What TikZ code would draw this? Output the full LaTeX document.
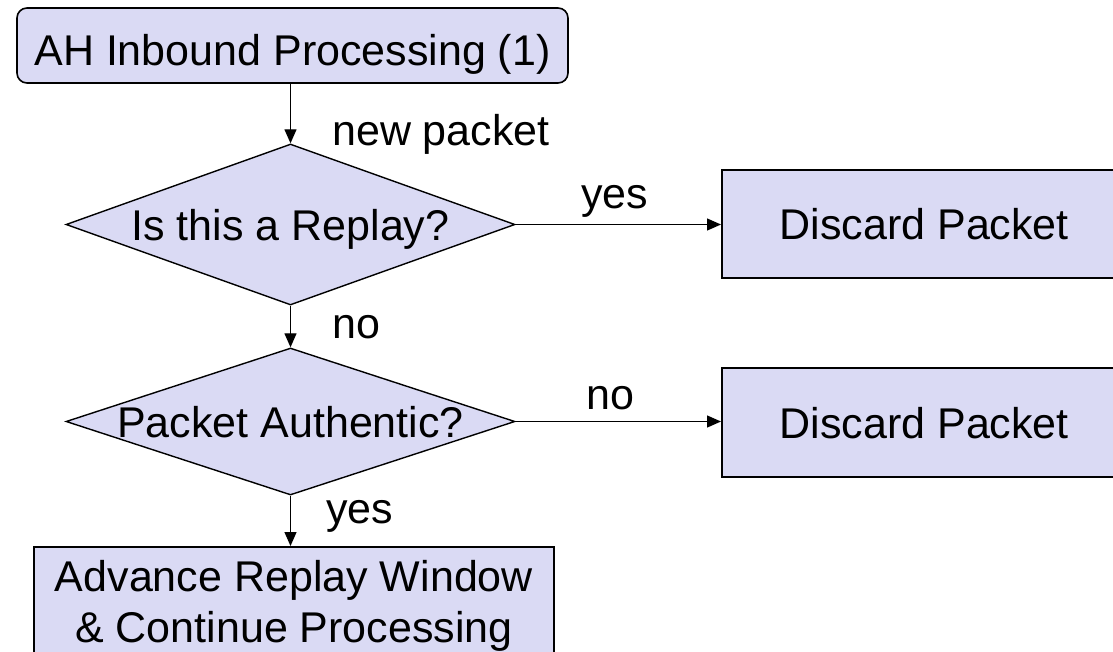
\documentclass[tikz,border=0pt]{standalone}
\usepackage{fontspec}
\setmainfont{Liberation Sans}
\usetikzlibrary{shapes.geometric,arrows.meta}
\definecolor{boxfill}{RGB}{218,218,244}
\begin{document}
\begin{tikzpicture}[x=1pt,y=-1pt,
  every node/.style={font=\fontsize{43}{51}\selectfont},
  box/.style={draw=black, line width=1.6pt, fill=boxfill, rectangle, inner sep=0pt, text height=31pt, text depth=0pt},
  tallbox/.style={draw=black, line width=1.6pt, fill=boxfill, rectangle, inner sep=0pt, align=center, text height=96pt, text depth=30pt},
  dia/.style={draw=black, line width=1.4pt, fill=boxfill, diamond, inner sep=0pt, text height=31pt, text depth=0pt},
  conn/.style={line width=1.3pt, -{Triangle[length=14pt,width=12pt]}},
  lbl/.style={inner sep=0pt, anchor=base west}]
\useasboundingbox (0,0) rectangle (1113,651);
\clip (0,0) rectangle (1113,651);
\node[box, rounded corners=10pt, minimum width=551pt, minimum height=75pt, text height=39pt] (top) at (292.5,45.5) {AH Inbound Processing (1)};
\node[dia, aspect=2.8, minimum width=449pt, minimum height=161pt] (d1) at (290.5,224.5) {Is this a Replay?};
\node[dia, aspect=3.05, minimum width=449pt, minimum height=147pt] (d2) at (290.5,421.5) {Packet Authentic?};
\node[box, minimum width=405pt, minimum height=108pt, anchor=west] (x1) at (721,224) {Discard Packet};
\node[box, minimum width=405pt, minimum height=109pt, anchor=west] (x2) at (721,422.5) {Discard Packet};
\node[tallbox, anchor=north, minimum width=520pt] (adv) at (294,546) {Advance Replay Window\\\& Continue Processing};
\draw[conn] (d1.north |- top.south) -- (d1.north);
\draw[conn] (d1.east) -- (x1.west |- d1.east);
\draw[conn] (d1.south) -- (d2.north);
\draw[conn] (d2.east) -- (x2.west |- d2.east);
\draw[conn] (d2.south) -- (d2.south |- adv.north);
\node[lbl] (l1) at (332,145) {new packet};
\node[lbl] (l2) at (581,208) {yes};
\node[lbl] (l3) at (332,338) {no};
\node[lbl] (l4) at (586,409) {no};
\node[lbl] (l5) at (326,523) {yes};
\end{tikzpicture}
\end{document}
